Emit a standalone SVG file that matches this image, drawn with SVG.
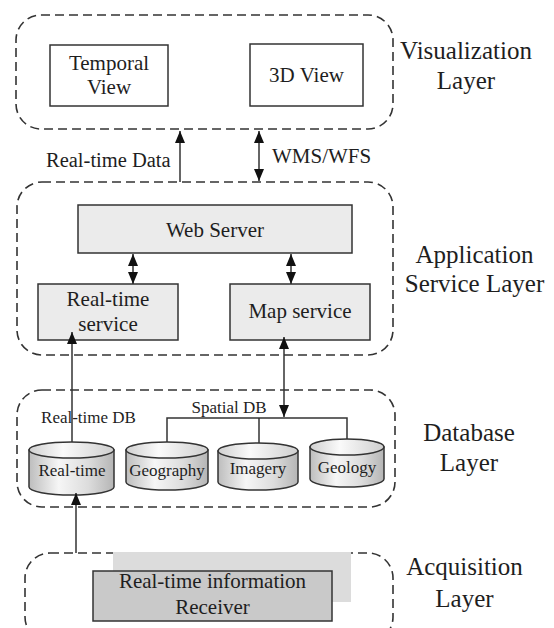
<svg xmlns="http://www.w3.org/2000/svg" width="554" height="628" viewBox="0 0 554 628" font-family="'Liberation Serif', serif">
<style>
text{font-family:'Liberation Serif',serif;fill:#1e1e1e}
.layer{fill:none;stroke:#333;stroke-width:1.6;stroke-dasharray:9 5}
.box{fill:#fff;stroke:#333;stroke-width:1.5}
.gbox{fill:#ebebeb;stroke:#333;stroke-width:1.5}
.cyl{fill:url(#cg);stroke:#333;stroke-width:1.5}
.cyltop{fill:url(#tg);stroke:#333;stroke-width:1.5}
.ln{fill:none;stroke:#333;stroke-width:1.5}
.lbl{font-size:25px;text-anchor:middle}
.t21{font-size:21px;text-anchor:middle}
.t17{font-size:17px;text-anchor:middle}
</style>
<defs>
<linearGradient id="cg" x1="0" y1="0" x2="1" y2="0">
<stop offset="0" stop-color="#bdbdbd"/>
<stop offset="0.35" stop-color="#f6f6f6"/>
<stop offset="0.7" stop-color="#dcdcdc"/>
<stop offset="1" stop-color="#b5b5b5"/>
</linearGradient>
<linearGradient id="tg" x1="0" y1="0" x2="1" y2="0">
<stop offset="0" stop-color="#d0d0d0"/>
<stop offset="0.4" stop-color="#fafafa"/>
<stop offset="1" stop-color="#cfcfcf"/>
</linearGradient>
<marker id="ah" markerUnits="userSpaceOnUse" viewBox="0 0 12 10" markerWidth="12" markerHeight="10" refX="12" refY="5" orient="auto-start-reverse">
<path d="M0,0 L12,5 L0,10 z" fill="#111"/>
</marker>
</defs>

<g id="visualization-layer">
<rect class="layer" x="16" y="15" width="377" height="114" rx="25"/>
<text class="lbl" x="466" y="59">Visualization</text>
<text class="lbl" x="466" y="89">Layer</text>
</g>
<g id="temporal-view">
<rect class="box" x="50" y="45" width="118" height="61"/>
<text class="t21" x="109" y="70">Temporal</text>
<text class="t21" x="109" y="94">View</text>
</g>
<g id="3d-view">
<rect class="box" x="250" y="44" width="113" height="62"/>
<text class="t21" x="306.5" y="82">3D View</text>
</g>

<g id="application-layer">
<rect class="layer" x="17" y="182" width="376" height="173" rx="25"/>
<text class="lbl" x="474.5" y="263">Application</text>
<text class="lbl" x="474.5" y="292">Service Layer</text>
</g>
<g id="web-server">
<rect class="gbox" x="78" y="205" width="274" height="48"/>
<text class="t21" x="215" y="237">Web Server</text>
</g>
<g id="realtime-service">
<rect class="gbox" x="38" y="284" width="140" height="56"/>
<text class="t21" x="108" y="306">Real-time</text>
<text class="t21" x="108" y="331">service</text>
</g>
<g id="map-service">
<rect class="gbox" x="230" y="284" width="140" height="56"/>
<text class="t21" x="300" y="318">Map service</text>
</g>

<g id="database-layer">
<rect class="layer" x="17" y="390" width="378" height="117" rx="25"/>
<text class="lbl" x="469" y="441">Database</text>
<text class="lbl" x="469" y="471">Layer</text>
<text class="t17" x="88.5" y="423">Real-time DB</text>
<text class="t17" x="229" y="413">Spatial DB</text>
</g>
<g id="realtime-db">
<path class="cyl" d="M29,450 L29,487 A42.5,8 0 0 0 114,487 L114,450 z"/>
<ellipse class="cyltop" cx="71.5" cy="450" rx="42.5" ry="8"/>
<text class="t17" x="72" y="476">Real-time</text>
</g>
<g id="geography-db">
<path class="cyl" d="M126,450 L126,482 A41,8 0 0 0 208,482 L208,450 z"/>
<ellipse class="cyltop" cx="167" cy="450" rx="41" ry="8"/>
<text class="t17" x="167" y="476">Geography</text>
</g>
<g id="imagery-db">
<path class="cyl" d="M218,451 L218,482 A40,8 0 0 0 298,482 L298,451 z"/>
<ellipse class="cyltop" cx="258" cy="451" rx="40" ry="8"/>
<text class="t17" x="258" y="474">Imagery</text>
</g>
<g id="geology-db">
<path class="cyl" d="M310,447 L310,479 A37,8 0 0 0 384,479 L384,447 z"/>
<ellipse class="cyltop" cx="347" cy="447" rx="37" ry="8"/>
<text class="t17" x="347" y="473">Geology</text>
</g>

<g id="acquisition-layer">
<rect class="layer" x="25" y="553" width="368" height="89" rx="25"/>
<text class="lbl" x="464.5" y="575">Acquisition</text>
<text class="lbl" x="464.5" y="607">Layer</text>
</g>
<g id="receiver">
<rect x="113" y="552" width="238" height="50" fill="#dcdcdc"/>
<rect x="93" y="571" width="239" height="50" fill="#c9c9c9" stroke="#333" stroke-width="1.5"/>
<text class="t21" x="212.5" y="588">Real-time information</text>
<text class="t21" x="212.5" y="614">Receiver</text>
</g>

<g id="labels">
<text x="46" y="167" style="font-size:20.5px">Real-time Data</text>
<text x="272" y="163" style="font-size:21px">WMS/WFS</text>
</g>

<g id="connectors">
<line class="ln" x1="180" y1="182" x2="180" y2="131" marker-end="url(#ah)"/>
<line class="ln" x1="259" y1="131" x2="259" y2="181" marker-start="url(#ah)" marker-end="url(#ah)"/>
<line class="ln" x1="133" y1="254" x2="133" y2="284" marker-start="url(#ah)" marker-end="url(#ah)"/>
<line class="ln" x1="291" y1="254" x2="291" y2="284" marker-start="url(#ah)" marker-end="url(#ah)"/>
<line class="ln" x1="72" y1="442" x2="72" y2="332" marker-end="url(#ah)"/>
<line class="ln" x1="284" y1="337" x2="284" y2="417" marker-start="url(#ah)" marker-end="url(#ah)"/>
<polyline class="ln" points="167,442 167,418 347,418 347,439"/>
<line class="ln" x1="259" y1="418" x2="259" y2="443"/>
<line class="ln" x1="76" y1="553" x2="76" y2="493" marker-end="url(#ah)"/>
</g>
</svg>
